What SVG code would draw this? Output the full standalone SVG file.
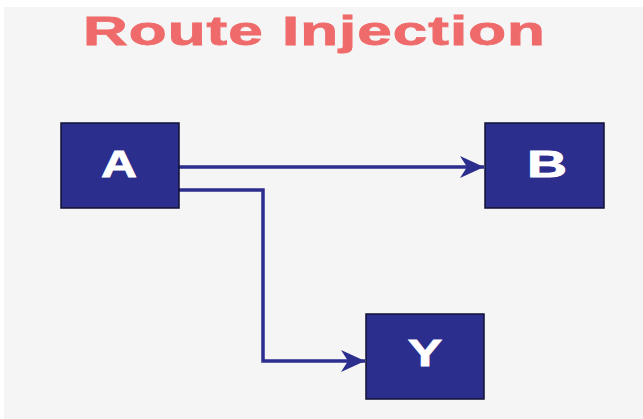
<svg xmlns="http://www.w3.org/2000/svg" width="643" height="419" viewBox="0 0 643 419">
  <defs>
    <style>
      .node rect { fill: #2c2e8e; stroke: #111133; stroke-width: 1.5; }
      .node text { fill: #ffffff; stroke: #ffffff; stroke-width: 0.8; font-family: "Liberation Sans", Arial, sans-serif; font-weight: bold; font-size: 37px; text-anchor: middle; }
      .conn { fill: none; stroke: #2c2e8e; stroke-width: 3.5; }
      .title { fill: #ef6a6a; stroke: #ef6a6a; stroke-width: 0.8; font-family: "Liberation Sans", Arial, sans-serif; font-weight: bold; font-size: 40px; }
    </style>
    <marker id="arrow" viewBox="0 0 26 24" refX="25" refY="12" markerWidth="26" markerHeight="24" markerUnits="userSpaceOnUse" orient="auto">
      <path d="M1,1 L25,12 L1,23 L8,12 Z" fill="#2c2e8e"/>
    </marker>
  </defs>
  <rect x="0" y="0" width="643" height="419" fill="#ffffff"/>
  <rect x="4" y="7" width="639" height="412" fill="#f5f5f5"/>
  <text class="title" transform="translate(83,45) scale(1.55,1)" textLength="298" lengthAdjust="spacing">Route Injection</text>
  <g id="connectors">
    <path class="conn" d="M179,167 H484" marker-end="url(#arrow)"/>
    <path class="conn" d="M179,190 H263 V361 H365" marker-end="url(#arrow)"/>
  </g>
  <g id="node-A" class="node">
    <rect x="61" y="123" width="118" height="85"/>
    <text transform="translate(119,177) scale(1.35,1)">A</text>
  </g>
  <g id="node-B" class="node">
    <rect x="485" y="123" width="119" height="85"/>
    <text transform="translate(547,177) scale(1.5,1)">B</text>
  </g>
  <g id="node-Y" class="node">
    <rect x="366" y="314" width="118" height="85"/>
    <text transform="translate(425,366) scale(1.4,1)">Y</text>
  </g>
</svg>
